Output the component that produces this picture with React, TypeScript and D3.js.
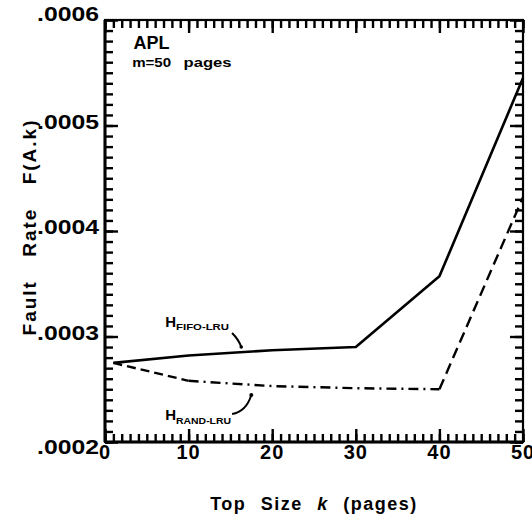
import React, { useEffect, useRef } from 'react';
import * as d3 from 'd3';

// top sizes k (pages) and fault rates
const topSizes = [1, 10, 20, 30, 40, 50];
const fifoLru = [0.000275, 0.000282, 0.000287, 0.00029, 0.000357, 0.000545];
const randLru = [0.000275, 0.000258, 0.000253, 0.000251, 0.00025, 0.000432];

const xTickLabels = ['0', '10', '20', '30', '40', '50'];
const yTickValues = [0.0002, 0.0003, 0.0004, 0.0005, 0.0006];
const yTickLabels = ['.0002', '.0003', '.0004', '.0005', '.0006'];

const W = 532;
const H = 519;
const frame = { left: 105, right: 523, top: 20, bottom: 442 };
const FONT = '"Liberation Sans", Arial, Helvetica, sans-serif';

const App = () => {
  const axesRef = useRef<SVGGElement>(null);

  const x = d3.scaleLinear().domain([0, 50]).range([frame.left, frame.right]);
  const y = d3.scaleLinear().domain([0.0002, 0.0006]).range([frame.bottom, frame.top]);

  useEffect(() => {
    if (!axesRef.current) return;
    const g = d3.select(axesRef.current);
    g.selectAll('*').remove();

    // inward ticks drawn with d3 axes: minor every page / .00001, major every 10 / .0001
    const minorX = x.ticks(50);
    const majorX = x.ticks(5);
    const minorY = y.ticks(40);
    const majorY = y.ticks(4);

    const put = (axis: any, tx: number, ty: number) => {
      const a = g.append('g').attr('transform', `translate(${tx},${ty})`).call(axis);
      a.select('.domain').remove();
      a.selectAll('text').remove();
      a.selectAll('line').attr('stroke', '#000').attr('stroke-width', 2.4);
    };

    put(d3.axisBottom(x).tickValues(minorX).tickSize(-8), 0, frame.bottom);
    put(d3.axisBottom(x).tickValues(majorX).tickSize(-13), 0, frame.bottom);
    put(d3.axisTop(x).tickValues(minorX).tickSize(-8), 0, frame.top);
    put(d3.axisTop(x).tickValues(majorX).tickSize(-13), 0, frame.top);
    put(d3.axisLeft(y).tickValues(minorY).tickSize(-8), frame.left, 0);
    put(d3.axisLeft(y).tickValues(majorY).tickSize(-13), frame.left, 0);
    put(d3.axisRight(y).tickValues(minorY).tickSize(-8), frame.right, 0);
    put(d3.axisRight(y).tickValues(majorY).tickSize(-13), frame.right, 0);
  }, []);

  const line = d3.line<[number, number]>()
    .x(d => x(d[0]))
    .y(d => y(d[1]));

  const fifoPts: [number, number][] = topSizes.map((k, i) => [k, fifoLru[i]]);
  const randPts: [number, number][] = topSizes.map((k, i) => [k, randLru[i]]);

  // the RAND-LRU curve changes dash style along its length
  const randSegs = [
    { pts: randPts.slice(0, 2), dash: '9,5' },
    { pts: randPts.slice(1, 5), dash: '10,5,2,5' },
    { pts: randPts.slice(4, 6), dash: '11,6' },
  ];

  // leader curves for the two annotations (data units)
  const fifoLead = [[15.2, 0.0003033], [16.0, 0.000297], [16.3, 0.00029]];
  const randLead = [[15.2, 0.0002265], [16.9, 0.000229], [17.5, 0.0002446]];
  const q = (p: number[][]) =>
    `M${x(p[0][0])},${y(p[0][1])} Q${x(p[1][0])},${y(p[1][1])} ${x(p[2][0])},${y(p[2][1])}`;

  return (
    <svg width={W} height={H} style={{ position: 'absolute', left: 0, top: 0, background: '#fff' }}
      fontFamily={FONT} fontWeight="bold">
      {/* frame */}
      <rect x={frame.left} y={frame.top} width={frame.right - frame.left} height={frame.bottom - frame.top}
        fill="none" stroke="#000" strokeWidth={2.2} />
      <line x1={frame.left} x2={frame.left} y1={frame.top} y2={frame.bottom} stroke="#000" strokeWidth={3} />
      <line x1={frame.left} x2={frame.right} y1={frame.bottom} y2={frame.bottom} stroke="#000" strokeWidth={3} />

      {/* ticks */}
      <g ref={axesRef} />

      {/* x tick labels */}
      {xTickLabels.map((t, i) => (
        <text key={'xl' + t} x={x(i * 10)} y={frame.bottom + 17} fontSize={20} textAnchor="middle"
          letterSpacing={1}>{t}</text>
      ))}

      {/* y tick labels */}
      {yTickValues.map((v, i) => {
        const dy = i === 0 ? 12 : i === yTickValues.length - 1 ? 1 : 3;
        return (
          <text key={'ylab' + i} x={frame.left - 6} y={y(v) + dy} fontSize={20} textAnchor="end"
            textLength={62} lengthAdjust="spacingAndGlyphs">{yTickLabels[i]}</text>
        );
      })}

      {/* axis titles */}
      <text transform="translate(36,227) rotate(-90)" fontSize={19} textAnchor="middle"
        letterSpacing={2} wordSpacing={16}>Fault Rate F(A.k)</text>
      <text x={314} y={510} fontSize={18} textAnchor="middle" letterSpacing={1.5}
        wordSpacing={8}>Top Size <tspan fontStyle="italic">k</tspan> (pages)</text>

      {/* series */}
      <path d={line(fifoPts) || ''} fill="none" stroke="#000" strokeWidth={2.6} strokeLinejoin="round" />
      {randSegs.map((s, i) => (
        <path key={'rs' + i} d={line(s.pts as [number, number][]) || ''} fill="none" stroke="#000"
          strokeWidth={2.4} strokeDasharray={s.dash} />
      ))}

      {/* annotations */}
      <text x={x(3.4)} y={y(0.0005725)} fontSize={18}>APL</text>
      <text x={x(3.25)} y={y(0.0005555)} fontSize={12.5} textLength={39}
        lengthAdjust="spacingAndGlyphs">m=50</text>
      <text x={x(9.4)} y={y(0.0005555)} fontSize={12.5} textLength={48}
        lengthAdjust="spacingAndGlyphs">pages</text>

      <text x={x(7.2)} y={y(0.000309)} fontSize={15}>H</text>
      <text x={x(8.5)} y={y(0.000306)} fontSize={8.5} textLength={53}
        lengthAdjust="spacingAndGlyphs">FIFO-LRU</text>
      <path d={q(fifoLead)} fill="none" stroke="#000" strokeWidth={2} />
      <circle cx={x(16.3)} cy={y(0.00029)} r={1.8} fill="#000" />

      <text x={x(7.2)} y={y(0.000221)} fontSize={15}>H</text>
      <text x={x(8.5)} y={y(0.0002175)} fontSize={8.5} textLength={55}
        lengthAdjust="spacingAndGlyphs">RAND-LRU</text>
      <path d={q(randLead)} fill="none" stroke="#000" strokeWidth={2} />
      <circle cx={x(17.5)} cy={y(0.0002446)} r={2} fill="#000" />
    </svg>
  );
};

export default App;
